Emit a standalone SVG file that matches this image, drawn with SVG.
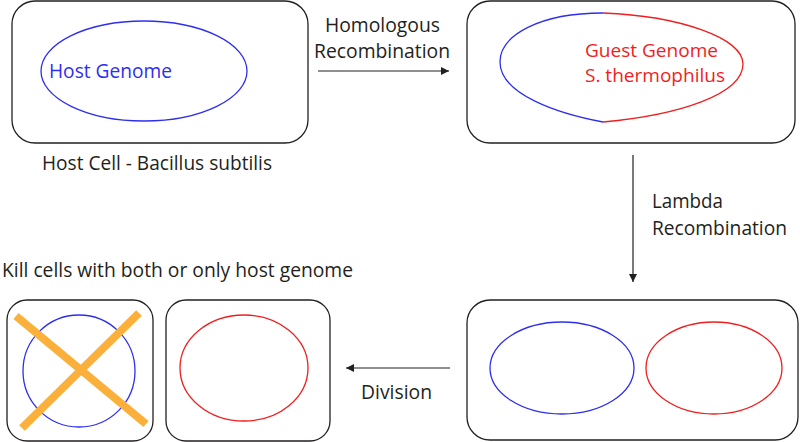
<svg xmlns="http://www.w3.org/2000/svg" width="800" height="442" viewBox="0 0 800 442">
<defs>
<style>
.cell{fill:#fff;stroke:#231f20;stroke-width:1.3}
.t{font-family:"Open Sans","Liberation Sans",sans-serif;font-size:20.5px;fill:#231f20}
.g{font-size:19px;fill:#f01e1e}
.blue{fill:none;stroke:#2e2ef0;stroke-width:1.3}
.red{fill:none;stroke:#f01e1e;stroke-width:1.3}
.conn{stroke:#231f20;stroke-width:1.2;fill:none}
.x{stroke:#fbb03b;stroke-width:8;stroke-linecap:butt}
</style>
<marker id="ah" viewBox="0 0 10 10" refX="10" refY="5" markerWidth="8" markerHeight="8" markerUnits="userSpaceOnUse" orient="auto">
<path d="M0,0 L10,5 L0,10 Z" fill="#231f20"/>
</marker>
</defs>
<rect width="800" height="442" fill="#fff"/>
<g id="host-cell">
<rect class="cell" x="12" y="1" width="296" height="142" rx="23"/>
<ellipse class="blue" cx="144" cy="71" rx="103" ry="50"/>
<text class="t" x="49" y="78" style="fill:#2e2ef0" textLength="123" lengthAdjust="spacingAndGlyphs">Host Genome</text>
<text class="t" x="42" y="170" textLength="230" lengthAdjust="spacingAndGlyphs">Host Cell - Bacillus subtilis</text>
</g>
<g id="recombined-cell">
<rect class="cell" x="467" y="1" width="328" height="142" rx="23"/>
<path class="blue" d="M603,13 C540,13 500,35 500,62 C500,95 560,114 603,122"/>
<path class="red" d="M603,13 C680,16 743,38 743,64 C743,94 680,115 603,122"/>
<text class="t g" x="585" y="57" textLength="133" lengthAdjust="spacingAndGlyphs">Guest Genome</text>
<text class="t g" x="585" y="82" textLength="140" lengthAdjust="spacingAndGlyphs">S. thermophilus</text>
</g>
<g id="split-cell">
<rect class="cell" x="467" y="300" width="331" height="140" rx="23"/>
<ellipse class="blue" cx="562" cy="368" rx="72" ry="46"/>
<ellipse class="red" cx="714" cy="368" rx="68" ry="46"/>
</g>
<g id="killed-cell">
<rect class="cell" x="7" y="300" width="146" height="141" rx="20"/>
<circle class="blue" cx="79" cy="371" r="56"/>
<line class="x" x1="16" y1="316" x2="146" y2="424"/>
<line class="x" x1="139" y1="313" x2="22" y2="428"/>
</g>
<g id="guest-cell">
<rect class="cell" x="166" y="300" width="164" height="141" rx="20"/>
<ellipse class="red" cx="244" cy="368" rx="64" ry="53"/>
</g>
<text class="t" x="2" y="277" textLength="351" lengthAdjust="spacingAndGlyphs">Kill cells with both or only host genome</text>
<g id="connectors">
<line class="conn" x1="318" y1="71" x2="449" y2="71" marker-end="url(#ah)"/>
<text class="t" x="325" y="32" textLength="115" lengthAdjust="spacingAndGlyphs">Homologous</text>
<text class="t" x="314" y="58" textLength="136" lengthAdjust="spacingAndGlyphs">Recombination</text>
<line class="conn" x1="633" y1="155" x2="633" y2="282" marker-end="url(#ah)"/>
<text class="t" x="652" y="208" textLength="71" lengthAdjust="spacingAndGlyphs">Lambda</text>
<text class="t" x="652" y="235" textLength="135" lengthAdjust="spacingAndGlyphs">Recombination</text>
<line class="conn" x1="450" y1="368" x2="346" y2="368" marker-end="url(#ah)"/>
<text class="t" x="361" y="399" textLength="71" lengthAdjust="spacingAndGlyphs">Division</text>
</g>
</svg>
